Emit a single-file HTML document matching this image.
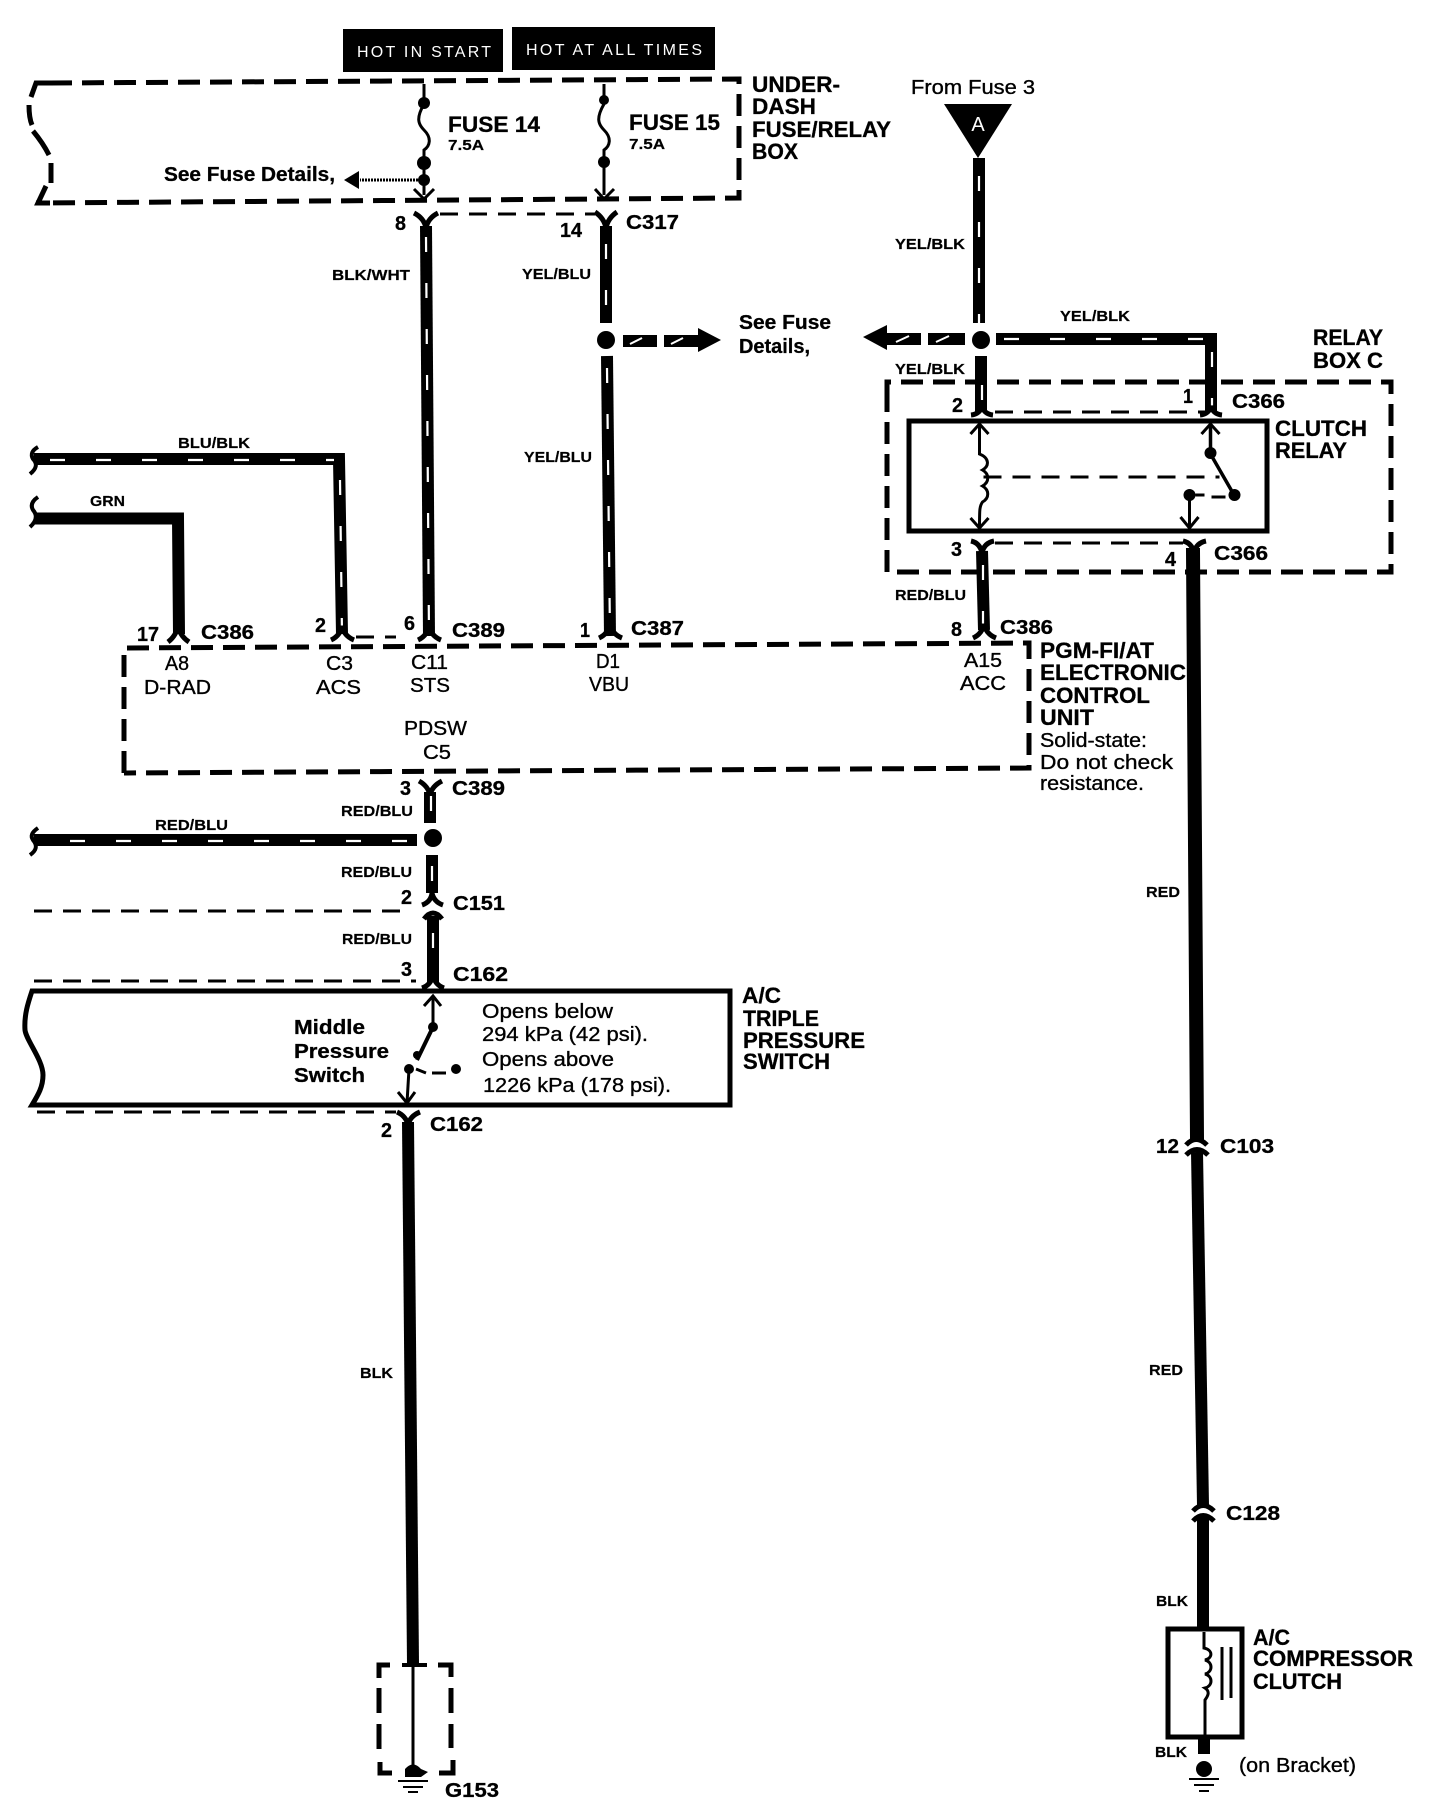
<!DOCTYPE html>
<html><head><meta charset="utf-8"><style>
html,body{margin:0;padding:0;background:#fff}
svg{display:block}
text{font-family:"Liberation Sans",sans-serif;fill:#000;stroke:none}
.b{font-weight:bold;font-size:22px;stroke:#000;stroke-width:.3px}
.c{font-weight:bold;font-size:20px;stroke:#000;stroke-width:.3px}
.r{font-size:20px;stroke:#000;stroke-width:.35px}
.l{font-weight:bold;font-size:15px;stroke:#000;stroke-width:.2px}
text.h{font-size:16px;fill:#fff}
.w{fill:none;stroke:#000;stroke-width:12}
.t{fill:none;stroke:#fff;stroke-width:2.2;stroke-dasharray:15 31}
.d{fill:none;stroke:#000;stroke-width:5;stroke-dasharray:22 10}
.e{fill:none;stroke:#000;stroke-width:3;stroke-dasharray:18 11}
.s{fill:none;stroke:#000;stroke-width:3}
.k{fill:none;stroke:#000;stroke-width:5}
</style></head><body>
<svg xmlns="http://www.w3.org/2000/svg" width="1456" height="1808" viewBox="0 0 1456 1808">
<rect width="1456" height="1808" fill="#fff"/>

<!-- top labels -->
<rect x="343" y="29" width="160" height="43" fill="#000"/>
<rect x="512" y="27" width="203" height="43" fill="#000"/>
<text class="h" x="357" y="57" textLength="134" lengthAdjust="spacing">HOT IN  START</text>
<text class="h" x="526" y="55" textLength="176" lengthAdjust="spacing">HOT AT ALL TIMES</text>

<!-- fuse box -->
<path class="d" d="M50 83L739 79V198L36 203"/>
<path class="k" d="M50 83H36L31 97M29 105Q29 118 32 125M33 131Q43 143 49 155M51 163V183M46 186L38 203H50"/>
<path class="s" d="M424 84V100M424 104C416 118 418 124 424 130C432 138 430 146 424 150V195"/>
<path class="s" d="M604 84V100M604 104C596 118 598 124 604 130C612 138 610 146 604 150V195"/>
<circle cx="424" cy="103" r="6"/><circle cx="424" cy="163" r="7"/><circle cx="424" cy="180" r="6"/>
<circle cx="604" cy="100" r="5"/><circle cx="604" cy="162" r="6"/>
<path class="s" d="M414 189L424 199L434 189"/><path class="s" d="M595 189L604 199L614 189"/>
<path d="M424 180H360" fill="none" stroke="#000" stroke-width="3" stroke-dasharray="2 1"/>
<path d="M344 180L359 171V189Z"/>
<text class="b" x="448" y="132" textLength="92" lengthAdjust="spacingAndGlyphs">FUSE 14</text>
<text class="l" x="448" y="150" textLength="36" lengthAdjust="spacingAndGlyphs">7.5A</text>
<text class="b" x="629" y="130" textLength="91" lengthAdjust="spacingAndGlyphs">FUSE 15</text>
<text class="l" x="629" y="149" textLength="36" lengthAdjust="spacingAndGlyphs">7.5A</text>
<text class="c" x="164" y="181" textLength="171" lengthAdjust="spacingAndGlyphs">See Fuse Details,</text>
<text class="b" x="752" y="92" textLength="88" lengthAdjust="spacingAndGlyphs">UNDER-</text>
<text class="b" x="752" y="114" textLength="64" lengthAdjust="spacingAndGlyphs">DASH</text>
<text class="b" x="752" y="137" textLength="139" lengthAdjust="spacingAndGlyphs">FUSE/RELAY</text>
<text class="b" x="752" y="159" textLength="46" lengthAdjust="spacingAndGlyphs">BOX</text>

<!-- C317 wires -->
<path class="e" d="M440 214H595"/>
<path class="k" d="M414 213Q424 218 426 228Q428 218 438 213"/>
<path class="k" d="M595 212Q604 218 606 228Q608 218 617 212"/>
<path class="w" d="M426 226L429 636"/><path class="t" d="M426 237L429 636"/>
<path class="w" d="M606 226V323"/><path class="t" d="M606 244V323"/>
<circle cx="606" cy="340" r="9"/>
<path class="w" d="M607 356L610 636"/><path class="t" d="M607 368L610 636"/>
<path class="w" d="M623 341H657M664 341H698"/>
<path d="M698 328L721 340L698 352Z"/>
<path d="M630 344L642 338M671 344L683 338" fill="none" stroke="#fff" stroke-width="2"/>
<text class="c" x="395" y="230" textLength="11" lengthAdjust="spacingAndGlyphs">8</text>
<text class="c" x="560" y="237" textLength="22" lengthAdjust="spacingAndGlyphs">14</text>
<text class="c" x="626" y="229" textLength="53" lengthAdjust="spacingAndGlyphs">C317</text>
<text class="l" x="332" y="280" textLength="78" lengthAdjust="spacingAndGlyphs">BLK/WHT</text>
<text class="l" x="522" y="279" textLength="69" lengthAdjust="spacingAndGlyphs">YEL/BLU</text>
<text class="l" x="524" y="462" textLength="68" lengthAdjust="spacingAndGlyphs">YEL/BLU</text>
<text class="c" x="739" y="329" textLength="92" lengthAdjust="spacingAndGlyphs">See Fuse</text>
<text class="c" x="739" y="353" textLength="71" lengthAdjust="spacingAndGlyphs">Details,</text>

<!-- left harness wires -->
<path class="k" style="stroke-width:4" d="M38 447Q29 452 33 459Q40 466 30 474"/>
<path class="k" style="stroke-width:4" d="M38 497Q29 503 33 510Q40 518 30 527"/>
<path class="w" d="M34 459H339L342 634"/>
<path class="t" d="M50 460H334"/><path class="t" d="M340 480L342 634"/>
<path class="w" d="M34 518.500H178L179 634"/>
<text class="l" x="178" y="448" textLength="72" lengthAdjust="spacingAndGlyphs">BLU/BLK</text>
<text class="l" x="90" y="506" textLength="35" lengthAdjust="spacingAndGlyphs">GRN</text>
<path class="k" d="M168 642Q176 636 178 626Q180 636 189 642"/>
<path class="k" d="M331 640Q340 636 342 626Q344 636 354 640"/>
<path class="k" d="M418 640Q427 636 429 626Q431 636 441 640"/>
<path class="k" d="M599 638Q608 634 610 624Q612 634 622 638"/>
<path class="e" d="M356 637H396"/>
<text class="c" x="137" y="641" textLength="22" lengthAdjust="spacingAndGlyphs">17</text>
<text class="c" x="201" y="639" textLength="53" lengthAdjust="spacingAndGlyphs">C386</text>
<text class="c" x="315" y="632" textLength="11" lengthAdjust="spacingAndGlyphs">2</text>
<text class="c" x="404" y="630" textLength="11" lengthAdjust="spacingAndGlyphs">6</text>
<text class="c" x="452" y="637" textLength="53" lengthAdjust="spacingAndGlyphs">C389</text>
<text class="c" x="580" y="637" textLength="10" lengthAdjust="spacingAndGlyphs">1</text>
<text class="c" x="631" y="635" textLength="53" lengthAdjust="spacingAndGlyphs">C387</text>

<!-- ECU -->
<path class="d" d="M124 773V648L1029 643V768L124 773"/>
<text class="r" x="165" y="670" textLength="24" lengthAdjust="spacingAndGlyphs">A8</text>
<text class="r" x="144" y="694" textLength="67" lengthAdjust="spacingAndGlyphs">D-RAD</text>
<text class="r" x="326" y="670" textLength="27" lengthAdjust="spacingAndGlyphs">C3</text>
<text class="r" x="316" y="694" textLength="45" lengthAdjust="spacingAndGlyphs">ACS</text>
<text class="r" x="411" y="669" textLength="37" lengthAdjust="spacingAndGlyphs">C11</text>
<text class="r" x="410" y="692" textLength="40" lengthAdjust="spacingAndGlyphs">STS</text>
<text class="r" x="596" y="668" textLength="24" lengthAdjust="spacingAndGlyphs">D1</text>
<text class="r" x="589" y="691" textLength="40" lengthAdjust="spacingAndGlyphs">VBU</text>
<text class="r" x="404" y="735" textLength="63" lengthAdjust="spacingAndGlyphs">PDSW</text>
<text class="r" x="423" y="759" textLength="28" lengthAdjust="spacingAndGlyphs">C5</text>
<text class="r" x="964" y="667" textLength="38" lengthAdjust="spacingAndGlyphs">A15</text>
<text class="r" x="960" y="690" textLength="46" lengthAdjust="spacingAndGlyphs">ACC</text>
<text class="b" x="1040" y="658" textLength="114" lengthAdjust="spacingAndGlyphs">PGM-FI/AT</text>
<text class="b" x="1040" y="680" textLength="146" lengthAdjust="spacingAndGlyphs">ELECTRONIC</text>
<text class="b" x="1040" y="703" textLength="110" lengthAdjust="spacingAndGlyphs">CONTROL</text>
<text class="b" x="1040" y="725" textLength="54" lengthAdjust="spacingAndGlyphs">UNIT</text>
<text class="r" x="1040" y="747" textLength="107" lengthAdjust="spacingAndGlyphs">Solid-state:</text>
<text class="r" x="1040" y="769" textLength="133" lengthAdjust="spacingAndGlyphs">Do not check</text>
<text class="r" x="1040" y="790" textLength="104" lengthAdjust="spacingAndGlyphs">resistance.</text>

<!-- RED/BLU trunk -->
<path class="k" d="M419 781Q428 786 430 795Q432 786 442 781"/>
<path class="w" d="M430 792V823"/><path class="t" d="M431 796V823"/>
<text class="c" x="400" y="795" textLength="11" lengthAdjust="spacingAndGlyphs">3</text>
<text class="c" x="452" y="795" textLength="53" lengthAdjust="spacingAndGlyphs">C389</text>
<text class="l" x="341" y="816" textLength="72" lengthAdjust="spacingAndGlyphs">RED/BLU</text>
<circle cx="433" cy="838" r="9"/>
<path class="k" style="stroke-width:4" d="M38 828Q29 834 33 840Q40 848 30 855"/>
<path class="w" d="M34 840H417"/><path class="t" d="M70 841H417"/>
<text class="l" x="155" y="830" textLength="73" lengthAdjust="spacingAndGlyphs">RED/BLU</text>
<path class="w" d="M432 855V893"/><path class="t" d="M432 866V893"/>
<text class="l" x="341" y="877" textLength="71" lengthAdjust="spacingAndGlyphs">RED/BLU</text>
<text class="c" x="401" y="904" textLength="11" lengthAdjust="spacingAndGlyphs">2</text>
<path class="k" d="M422 905Q431 902 432 893Q434 902 443 905"/>
<path class="k" d="M424 919Q433 907 442 919"/>
<text class="c" x="453" y="910" textLength="52" lengthAdjust="spacingAndGlyphs">C151</text>
<path class="e" d="M34 911H402"/>
<path class="w" d="M433 916V982"/><path class="t" d="M433 933V980"/>
<text class="l" x="342" y="944" textLength="70" lengthAdjust="spacingAndGlyphs">RED/BLU</text>
<text class="c" x="401" y="976" textLength="11" lengthAdjust="spacingAndGlyphs">3</text>
<text class="c" x="453" y="981" textLength="55" lengthAdjust="spacingAndGlyphs">C162</text>
<path class="e" d="M34 981H416"/>
<path class="k" d="M422 988Q431 985 433 975Q435 985 444 988"/>

<!-- triple pressure switch -->
<path d="M32 991H730V1105H32C38 1095 43 1087 43 1075C43 1060 26 1040 25 1030C24 1015 28 1003 32 991Z" fill="none" stroke="#000" stroke-width="5"/>
<path class="s" d="M433 997V1027"/><path class="s" d="M424 1006L433 996L441 1006"/>
<circle cx="433" cy="1027" r="5"/><circle cx="417" cy="1055" r="4"/><circle cx="409" cy="1069" r="5"/><circle cx="456" cy="1069" r="5"/>
<path class="k" d="M433 1027L417 1060" style="stroke-width:4"/>
<path class="s" d="M409 1069L407 1103M416 1069L426 1073M432 1073H446"/>
<path class="s" d="M398 1092L407 1103L415 1092"/>
<text class="c" x="294" y="1034" textLength="71" lengthAdjust="spacingAndGlyphs">Middle</text>
<text class="c" x="294" y="1058" textLength="95" lengthAdjust="spacingAndGlyphs">Pressure</text>
<text class="c" x="294" y="1082" textLength="71" lengthAdjust="spacingAndGlyphs">Switch</text>
<text class="r" x="482" y="1018" textLength="131" lengthAdjust="spacingAndGlyphs">Opens below</text>
<text class="r" x="482" y="1041" textLength="166" lengthAdjust="spacingAndGlyphs">294 kPa (42 psi).</text>
<text class="r" x="482" y="1066" textLength="132" lengthAdjust="spacingAndGlyphs">Opens above</text>
<text class="r" x="483" y="1092" textLength="188" lengthAdjust="spacingAndGlyphs">1226 kPa (178 psi).</text>
<text class="b" x="742" y="1003" textLength="39" lengthAdjust="spacingAndGlyphs">A/C</text>
<text class="b" x="743" y="1026" textLength="76" lengthAdjust="spacingAndGlyphs">TRIPLE</text>
<text class="b" x="743" y="1048" textLength="122" lengthAdjust="spacingAndGlyphs">PRESSURE</text>
<text class="b" x="743" y="1069" textLength="87" lengthAdjust="spacingAndGlyphs">SWITCH</text>

<!-- C162 lower + G153 -->
<path class="e" d="M37 1112H396"/>
<path class="k" d="M397 1112Q406 1116 408 1125Q410 1116 420 1112"/>
<path class="w" d="M408 1122L413 1664"/>
<text class="c" x="381" y="1137" textLength="11" lengthAdjust="spacingAndGlyphs">2</text>
<text class="c" x="430" y="1131" textLength="53" lengthAdjust="spacingAndGlyphs">C162</text>
<text class="l" x="360" y="1378" textLength="33" lengthAdjust="spacingAndGlyphs">BLK</text>
<path class="k" d="M402 1665H427" style="stroke-width:4"/>
<path class="s" d="M413 1664V1765"/>
<path class="k" d="M390 1665H379V1678M379 1688V1713M379 1724V1749M380 1762V1773H392M438 1665H451V1677M451 1688V1713M451 1724V1748M453 1760V1773H439"/>
<path d="M405 1769Q413 1760 421 1769L428 1772L421 1777H405Z"/>
<path class="s" d="M398 1781H428M403 1787H423M408 1792H418" style="stroke-width:2"/>
<text class="c" x="445" y="1797" textLength="54" lengthAdjust="spacingAndGlyphs">G153</text>

<!-- From fuse 3 -->
<text class="r" x="911" y="94" textLength="124" lengthAdjust="spacingAndGlyphs">From Fuse 3</text>
<path d="M944 104H1012L978 158Z"/>
<text x="978" y="131" text-anchor="middle" style="font-size:20px;fill:#fff">A</text>
<path class="w" d="M979 158V323"/><path class="t" d="M979 176V323"/>
<text class="l" x="895" y="249" textLength="70" lengthAdjust="spacingAndGlyphs">YEL/BLK</text>
<circle cx="981" cy="340" r="9"/>
<path d="M863 337L887 325V350Z"/>
<path class="w" d="M887 339H921M928 339H965"/>
<path d="M896 342L909 336M936 342L949 336" fill="none" stroke="#fff" stroke-width="2"/>
<path class="w" d="M996 339H1211V412"/>
<path class="t" d="M1004 339H1203"/><path class="t" d="M1212 352V412"/>
<text class="l" x="1060" y="321" textLength="70" lengthAdjust="spacingAndGlyphs">YEL/BLK</text>
<path class="w" d="M981 356V412"/><path class="t" d="M982 385V412"/>
<text class="l" x="895" y="374" textLength="70" lengthAdjust="spacingAndGlyphs">YEL/BLK</text>
<text class="b" x="1313" y="345" textLength="70" lengthAdjust="spacingAndGlyphs">RELAY</text>
<text class="b" x="1313" y="368" textLength="70" lengthAdjust="spacingAndGlyphs">BOX C</text>

<!-- relay box C -->
<path class="d" d="M887 400V382H1391V572H887V400"/>
<path class="e" d="M995 412H1205"/>
<path class="k" d="M971 415Q980 414 982 406Q984 414 993 415"/>
<path class="k" d="M1200 415Q1209 414 1211 406Q1213 414 1222 415"/>
<text class="c" x="952" y="412" textLength="11" lengthAdjust="spacingAndGlyphs">2</text>
<text class="c" x="1183" y="403" textLength="10" lengthAdjust="spacingAndGlyphs">1</text>
<text class="c" x="1232" y="408" textLength="53" lengthAdjust="spacingAndGlyphs">C366</text>
<rect x="909" y="421" width="358" height="110" fill="#fff" stroke="#000" stroke-width="5"/>
<text class="b" x="1275" y="436" textLength="92" lengthAdjust="spacingAndGlyphs">CLUTCH</text>
<text class="b" x="1275" y="458" textLength="72" lengthAdjust="spacingAndGlyphs">RELAY</text>
<g transform="translate(1.500 0)">
<path class="s" d="M978 425V454C988 458 988 466 981 470C988 474 988 482 981 486C988 490 988 498 981 502C978 506 978 510 978 528"/>
<path class="s" d="M969 434L978 424L987 434M969 518L978 528L987 518"/>
<path class="e" d="M982 477H1218"/>
<path class="s" d="M1209 425V452M1209 454L1232 494" style="stroke-width:3.500"/>
<path class="s" d="M1200 434L1209 424L1218 434"/>
<circle cx="1209" cy="453" r="6"/><circle cx="1233" cy="495" r="6"/><circle cx="1188" cy="495" r="6"/>
<path class="s" d="M1194 495H1203M1210 497H1224"/>
<path class="s" d="M1188 495V528M1179 517L1188 528L1197 517"/>
</g>

<path class="e" d="M995 543H1183"/>
<path class="k" d="M971 541Q980 543 982 553Q984 543 994 541"/>
<path class="k" d="M1183 541Q1192 543 1194 553Q1196 543 1206 541"/>
<text class="c" x="951" y="556" textLength="11" lengthAdjust="spacingAndGlyphs">3</text>
<text class="c" x="1165" y="566" textLength="11" lengthAdjust="spacingAndGlyphs">4</text>
<text class="c" x="1214" y="560" textLength="54" lengthAdjust="spacingAndGlyphs">C366</text>
<path class="w" d="M982 551L984 630"/><path class="t" d="M983 565V630"/>
<text class="l" x="895" y="600" textLength="71" lengthAdjust="spacingAndGlyphs">RED/BLU</text>
<text class="c" x="951" y="636" textLength="11" lengthAdjust="spacingAndGlyphs">8</text>
<path class="k" d="M973 638Q982 634 984 624Q986 634 996 638"/>
<text class="c" x="1000" y="634" textLength="53" lengthAdjust="spacingAndGlyphs">C386</text>

<!-- main red wire -->
<path d="M1189 551H1197L1201 1138H1193Z" stroke="#000" stroke-width="6"/>
<text class="l" x="1146" y="897" textLength="34" lengthAdjust="spacingAndGlyphs">RED</text>
<path class="k" d="M1186 1145Q1196 1134 1207 1145"/>
<path class="k" d="M1186 1155Q1197 1144 1208 1155"/>
<text class="c" x="1156" y="1153" textLength="23" lengthAdjust="spacingAndGlyphs">12</text>
<text class="c" x="1220" y="1153" textLength="54" lengthAdjust="spacingAndGlyphs">C103</text>
<path class="w" d="M1197 1152L1203 1505"/>
<text class="l" x="1149" y="1375" textLength="34" lengthAdjust="spacingAndGlyphs">RED</text>
<path class="k" d="M1193 1511Q1203 1500 1214 1511"/>
<path class="k" d="M1193 1521Q1203 1510 1214 1521"/>
<text class="c" x="1226" y="1520" textLength="54" lengthAdjust="spacingAndGlyphs">C128</text>
<path class="w" d="M1203 1518V1632"/>
<text class="l" x="1156" y="1606" textLength="32" lengthAdjust="spacingAndGlyphs">BLK</text>

<!-- compressor clutch -->
<rect x="1168" y="1629" width="74" height="108" fill="#fff" stroke="#000" stroke-width="5"/>
<path class="s" d="M1204 1632V1648C1213 1650 1213 1658 1205 1660C1213 1662 1213 1672 1205 1674C1213 1676 1213 1686 1205 1688C1211 1692 1207 1697 1205 1700V1737"/>
<path class="s" d="M1222 1647V1700M1231 1647V1698"/>
<text class="b" x="1253" y="1645" textLength="37" lengthAdjust="spacingAndGlyphs">A/C</text>
<text class="b" x="1253" y="1666" textLength="160" lengthAdjust="spacingAndGlyphs">COMPRESSOR</text>
<text class="b" x="1253" y="1689" textLength="89" lengthAdjust="spacingAndGlyphs">CLUTCH</text>
<path class="w" d="M1204 1738V1754"/>
<text class="l" x="1155" y="1757" textLength="32" lengthAdjust="spacingAndGlyphs">BLK</text>
<circle cx="1204" cy="1769" r="8"/>
<path class="s" d="M1189 1779H1219M1194 1785H1214M1199 1791H1209" style="stroke-width:2"/>
<text class="r" x="1239" y="1772" textLength="117" lengthAdjust="spacingAndGlyphs">(on Bracket)</text>
</svg>
</body></html>
